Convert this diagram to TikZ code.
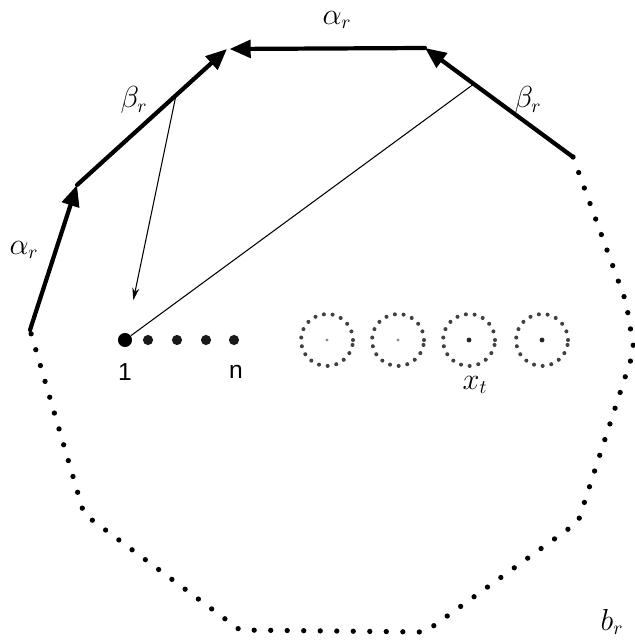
\documentclass[tikz,border=0pt]{standalone}
\usepackage{fontspec}
\newfontfamily\labelfont{Liberation Sans}
\usetikzlibrary{arrows.meta, calc}

\begin{document}
\begin{tikzpicture}[x=0.02cm, y=-0.02cm, font=\fontsize{16}{18}\selectfont,
  edge/.style={line width=2.4pt, line cap=round},
  tip/.style={-{Triangle[length=12pt, width=10pt]}},
  thinline/.style={line width=0.6pt},
  border/.style={line width=3pt, line cap=round, dash pattern=on 0pt off 9.4pt},
  ring/.style={circle, minimum size=1.04cm, inner sep=0pt, draw=black!75, line width=2.3pt,
    line cap=round, dash pattern=on 0pt off 5pt},
  bigdot/.style={circle, fill=black, minimum size=8pt, inner sep=0pt},
  smalldot/.style={circle, fill=black!90, minimum size=5.8pt, inner sep=0pt},
  numlabel/.style={font=\labelfont\fontsize{14}{16}\selectfont}]
  \useasboundingbox (0,0) rectangle (635,642);

  % polygon corners
  \coordinate (p0) at (30,330);
  \coordinate (a) at (77,185);
  \coordinate (b) at (227,49);
  \coordinate (c) at (425,48);
  \coordinate (d) at (573,157);

  % solid sides with arrows
  \draw[edge, tip] (p0) -- (a);
  \draw[edge, tip] (a) -- (b);
  \draw[edge, tip, shorten >=1.5pt] (c) -- (b);
  \draw[edge, tip] (d) -- (c);

  % dotted rest of the boundary
  \draw[border] (d) -- (626,302) -- (634,350) -- (578,522) -- (425,632)
    -- (240,630) -- (84,514) -- (p0);

  % side labels
  \node (la1) at (24,250) {$\alpha_r$};
  \node (lb1) at (134,100) {$\beta_r$};
  \node (la2) at (337,20) {$\alpha_r$};
  \node (lb2) at (528,100) {$\beta_r$};
  \node (lbr) at (612,622) {$b_r$};

  % items 1..n
  \node[bigdot] (n1) at (125,340) {};
  \foreach \i/\x in {2/148, 3/177, 4/206, 5/234}
    \node[smalldot] (n\i) at (\x,340) {};
  \node[numlabel] (l1) at (125,372) {1};
  \node[numlabel] (ln) at (236,372) {n};

  % dotted rings
  \foreach \i/\x in {1/327, 2/398, 3/469, 4/542}
    \node[ring] (r\i) at (\x,340) {};
  \fill[black!45] (r1.center) circle[radius=0.9pt];
  \fill[black!45] (r2.center) circle[radius=0.9pt];
  \fill[black!85] (r3.center) circle[radius=1.4pt];
  \fill[black!85] (r4.center) circle[radius=1.4pt];
  \node (lxt) at (475,385) {$x_t$};

  % thin connectors
  \coordinate (eb) at ($(a)!0.66!(b)$);
  \coordinate (ed) at ($(c)!0.33!(d)$);
  \draw[thinline, -{Stealth[length=7pt, width=4pt]}, shorten >=19pt] (eb) -- (n1);
  \draw[thinline] (ed) -- (n1);
\end{tikzpicture}
\end{document}
